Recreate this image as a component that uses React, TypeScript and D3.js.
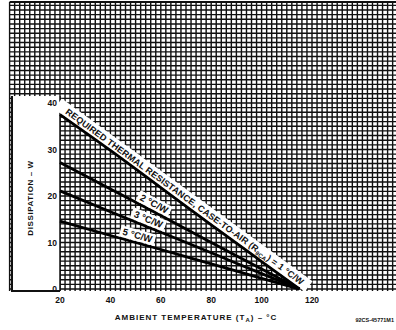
import React from "react";
import * as d3 from "d3";

// ambient temperature (deg C) sample points
const temps = [20, 40, 60, 80, 100, 115];
// dissipation (W) for each case-to-air thermal resistance
const r1 = [37.5, 29.8, 21.8, 13.8, 5.9, 0];
const r2 = [27.2, 21.5, 15.8, 10.0, 4.3, 0];
const r3 = [21.1, 16.6, 12.2, 7.8, 3.3, 0];
const r5 = [14.6, 11.5, 8.5, 5.4, 2.3, 0];
const xTicks = [20, 40, 60, 80, 100, 120];
const yTicks = [0, 10, 20, 30, 40];
const curveLabels = ["2 \u00b0C/W", "3 \u00b0C/W", "5 \u00b0C/W"];
const labelAt = [56, 54, 50];

const W = 396;
const H = 330;

export default function App() {
  const x = d3.scaleLinear().domain([20, 120]).range([60, 312]);
  const y = d3.scaleLinear().domain([0, 40]).range([289, 103]);

  const gridX = d3.range(0, 156, 2);
  const gridY = d3.range(0, 62, 1);
  const gridTop = 2;
  const gridBottom = 291;
  const gridLeft = x(0);

  const line = d3
    .line<number>()
    .x((_, i) => x(temps[i]))
    .y(d => y(d))
    .curve(d3.curveMonotoneX);

  const series = [r1, r2, r3, r5];

  // point + angle on a series at temperature t
  const at = (vals: number[], t: number) => {
    const interp = d3.scaleLinear().domain(temps).range(vals);
    const px = x(t);
    const py = y(interp(t));
    const px2 = x(t + 1);
    const py2 = y(interp(t + 1));
    const ang = (Math.atan2(py2 - py, px2 - px) * 180) / Math.PI;
    return { px, py, ang };
  };

  const p0 = { px: x(temps[0]), py: y(r1[0]) };
  const p1 = { px: x(temps[temps.length - 1]), py: y(0) };
  const bandLen = Math.hypot(p1.px - p0.px, p1.py - p0.py);
  const bandAng = (Math.atan2(p1.py - p0.py, p1.px - p0.px) * 180) / Math.PI;

  const font = "'Liberation Sans', Arial, sans-serif";

  return (
    <svg width={W} height={H} style={{ position: "absolute", left: 0, top: 0, background: "#fff" }}>
      {/* grid paper */}
      <g stroke="#111" strokeWidth={1.4}>
        {gridX.map(t => (
          <line key={"gx" + t} x1={x(t)} x2={x(t)} y1={gridTop} y2={gridBottom} />
        ))}
        {gridY.map(v => (
          <line key={"gy" + v} x1={gridLeft} x2={W} y1={y(v)} y2={y(v)} />
        ))}
        <line x1={gridLeft} x2={W} y1={gridTop} y2={gridTop} strokeWidth={2} />
      </g>

      {/* white label panel on the left */}
      <rect x={12} y={y(41.5)} width={x(20) - 12} height={gridBottom - y(41.5)} fill="#fff" />
      <line x1={12} x2={12} y1={y(41.5)} y2={gridBottom + 1} stroke="#111" strokeWidth={2} />
      <line x1={12} x2={x(20)} y1={gridBottom} y2={gridBottom} stroke="#111" strokeWidth={2.2} />
      <line x1={x(20)} x2={x(20)} y1={y(41.5)} y2={gridBottom} stroke="#111" strokeWidth={1.5} />

      {/* white band for the 1 C/W label */}
      <g transform={`translate(${p0.px},${p0.py}) rotate(${bandAng})`}>
        <rect x={-8} y={-14} width={bandLen + 14} height={13} fill="#fff" />
        <text
          x={3}
          y={-4}
          fontFamily={font}
          fontWeight="bold"
          fontSize={9}
          textLength={bandLen - 4}
          lengthAdjust="spacing"
          fill="#111"
        >
          REQUIRED THERMAL RESISTANCE, CASE-TO-AIR (R
          <tspan fontSize={6} dy={2}>
            θCA
          </tspan>
          <tspan dy={-2}>) = 1 °C/W</tspan>
        </text>
      </g>

      {/* curves */}
      {series.map((s, i) => (
        <path key={"s" + i} d={line(s) || ""} fill="none" stroke="#000" strokeWidth={2.8} />
      ))}

      {/* curve labels */}
      {curveLabels.map((lab, i) => {
        const p = at(series[i + 1], labelAt[i]);
        return (
          <g key={"l" + i} transform={`translate(${p.px},${p.py}) rotate(${p.ang})`}>
            <rect x={-18} y={-13} width={36} height={11.5} fill="#fff" />
            <text
              x={0}
              y={-4}
              textAnchor="middle"
              fontFamily={font}
              fontWeight="bold"
              fontSize={9.5}
              fill="#111"
            >
              {lab}
            </text>
          </g>
        );
      })}

      {/* y tick labels */}
      {yTicks.map(v => (
        <text
          key={"yt" + v}
          x={x(20) - 3}
          y={y(v) + 3}
          textAnchor="end"
          fontFamily={font}
          fontWeight="bold"
          fontSize={8.5}
          fill="#111"
        >
          {v}
        </text>
      ))}

      {/* x tick labels */}
      {xTicks.map(t => (
        <text
          key={"xt" + t}
          x={x(t)}
          y={303}
          textAnchor="middle"
          fontFamily={font}
          fontWeight="bold"
          fontSize={8.5}
          fill="#111"
        >
          {t}
        </text>
      ))}

      {/* axis titles */}
      <text
        transform={`translate(33,${(y(40) + y(0)) / 2 + 2}) rotate(-90)`}
        textAnchor="middle"
        fontFamily={font}
        fontWeight="bold"
        fontSize={8}
        letterSpacing={0.6}
        fill="#111"
      >
        DISSIPATION – W
      </text>
      <text
        x={196}
        y={320}
        textAnchor="middle"
        fontFamily={font}
        fontWeight="bold"
        fontSize={8}
        letterSpacing={1}
        fill="#111"
      >
        AMBIENT TEMPERATURE (T
        <tspan fontSize={6} dy={2}>
          A
        </tspan>
        <tspan dy={-2}>) – °C</tspan>
      </text>
      <text x={394} y={322} textAnchor="end" fontFamily={font} fontWeight="bold" fontSize={5.5} fill="#111">
        92CS-45771M1
      </text>
    </svg>
  );
}
